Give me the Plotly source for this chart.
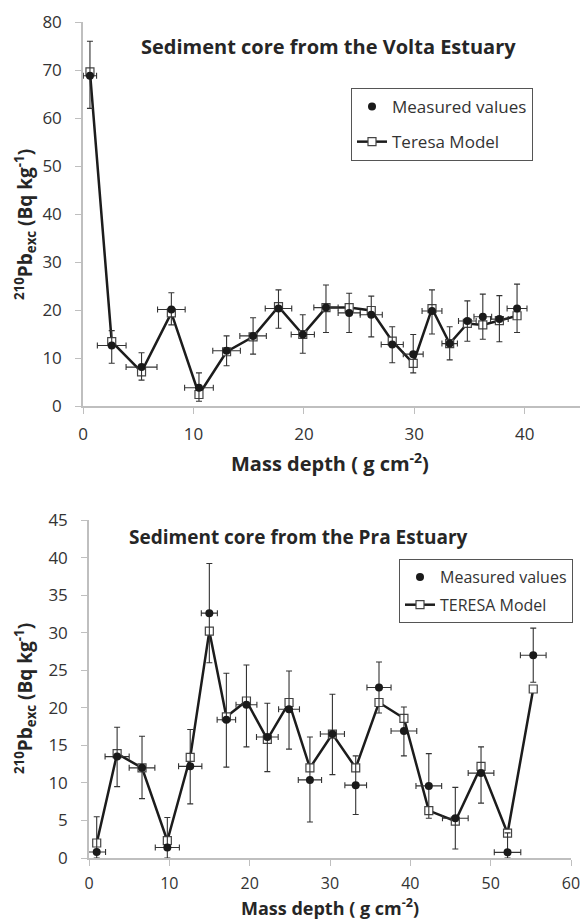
import plotly.graph_objects as go

W, H = 582, 920
FONT = "Open Sans"

# ---- Volta Estuary (top) ----
volta_x = [0.63, 2.6, 5.3, 8.0, 10.5, 13.0, 15.4, 17.7, 19.9, 22.0, 24.1, 26.1, 28.0, 29.9, 31.6, 33.2, 34.8, 36.2, 37.7, 39.3]
volta_meas = [68.8, 12.6, 8.1, 20.1, 3.8, 11.5, 14.6, 20.3, 14.9, 20.5, 19.4, 19.0, 12.8, 10.8, 19.8, 13.0, 17.7, 18.6, 18.1, 20.3]
volta_model = [69.6, 13.4, 7.1, 19.4, 2.4, 11.3, 14.4, 20.7, 14.9, 20.5, 20.5, 19.9, 13.5, 8.9, 20.3, 13.0, 17.2, 16.9, 17.8, 18.8]
volta_err_up = [7.2, 3.1, 3.0, 3.5, 3.1, 3.1, 3.8, 3.9, 4.1, 4.7, 4.1, 3.9, 3.7, 4.1, 4.4, 3.5, 4.2, 4.7, 4.9, 5.1]
volta_err_dn = [6.8, 3.7, 2.7, 3.2, 2.8, 3.1, 3.8, 4.1, 3.9, 5.2, 4.1, 4.6, 3.8, 3.9, 4.8, 3.4, 4.2, 4.7, 4.7, 5.0]
volta_xerr = [0.6, 1.3, 1.4, 1.25, 1.3, 1.25, 1.2, 1.2, 1.05, 1.1, 1.0, 1.0, 1.0, 0.9, 0.9, 0.7, 0.8, 0.8, 0.8, 0.9]

# ---- Pra Estuary (bottom) ----
pra_x = [0.96, 3.5, 6.6, 9.75, 12.6, 14.98, 17.1, 19.6, 22.2, 24.9, 27.5, 30.3, 33.2, 36.1, 39.2, 42.3, 45.6, 48.8, 52.1, 55.3]
pra_meas = [0.8, 13.5, 12.0, 1.4, 12.2, 32.6, 18.4, 20.4, 16.1, 19.8, 10.4, 16.5, 9.7, 22.7, 16.9, 9.6, 5.3, 11.3, 0.75, 27.0]
pra_model = [2.0, 13.9, 12.0, 2.3, 13.4, 30.2, 18.8, 20.9, 15.8, 20.7, 12.0, 16.5, 12.0, 20.7, 18.6, 6.3, 4.9, 12.2, 3.3, 22.5]
pra_err_up = [4.7, 3.9, 4.2, 4.0, 4.9, 6.6, 6.2, 5.3, 4.5, 5.1, 5.7, 5.3, 3.9, 3.4, 3.2, 4.3, 4.1, 3.5, 2.6, 3.6]
pra_err_dn = [0.8, 4.0, 4.1, 1.4, 5.0, 6.6, 6.3, 5.6, 4.6, 5.3, 5.6, 5.4, 3.9, 3.4, 3.3, 4.3, 4.1, 4.0, 0.75, 3.6]
pra_xerr = [1.1, 1.5, 1.6, 1.5, 1.45, 1.0, 1.15, 1.3, 1.35, 1.3, 1.45, 1.5, 1.35, 1.5, 1.6, 1.6, 1.6, 1.6, 1.65, 1.6]

LINE = "#1c1c1c"
ERR = "#333333"
AXIS = "#bfbfbf"
TXT = "#333333"

fig = go.Figure()

def add_panel(x, meas, model, eu, ed, xe, xa, ya, legend, model_name, tag):
    fig.add_trace(go.Scatter(
        x=x, y=model, mode="lines+markers", name=model_name,
        line=dict(color=LINE, width=2.5),
        marker=dict(symbol="square", size=8, color="white", line=dict(color="#444444", width=1.2)),
        xaxis=xa, yaxis=ya, legend=legend, legendgroup=tag + "m", legendrank=2))
    fig.add_trace(go.Scatter(
        x=x, y=meas, mode="markers", name="Measured values",
        marker=dict(symbol="circle", size=8, color="#1a1a1a"),
        error_y=dict(type="data", array=eu, arrayminus=ed, color=ERR, thickness=1.1, width=3),
        error_x=dict(type="data", array=xe, arrayminus=xe, color=ERR, thickness=1.1, width=3),
        xaxis=xa, yaxis=ya, legend=legend, legendgroup=tag + "a", legendrank=1))

add_panel(volta_x, volta_meas, volta_model, volta_err_up, volta_err_dn, volta_xerr, "x", "y", "legend", "Teresa Model", "v")
add_panel(pra_x, pra_meas, pra_model, pra_err_up, pra_err_dn, pra_xerr, "x2", "y2", "legend2", "TERESA Model", "p")

def px_x(p):
    return p / W

def px_y(p):
    return (H - p) / H

axis_common = dict(showgrid=False, zeroline=False, showline=True, linecolor=AXIS, linewidth=1.5,
                   ticks="outside", tickcolor=AXIS, ticklen=6, tickwidth=1.2)
tf17 = dict(family=FONT, size=17, color=TXT)
tf16 = dict(family=FONT, size=16, color=TXT)

fig.update_layout(
    width=W, height=H, margin=dict(l=0, r=0, t=0, b=0, autoexpand=False),
    paper_bgcolor="white", plot_bgcolor="white",
    font=dict(family=FONT, color=TXT),
    xaxis=dict(domain=[px_x(83), px_x(580)], range=[0, 45], dtick=10, anchor="y",
               ticklabelstandoff=6, tickfont=tf17, **axis_common),
    yaxis=dict(domain=[px_y(406), px_y(22)], range=[0, 80], dtick=10, anchor="x",
               ticklabelstandoff=10, tickfont=tf17, **axis_common),
    xaxis2=dict(domain=[px_x(89), px_x(571)], range=[0, 60], dtick=10, anchor="y2",
                ticklabelstandoff=4, tickfont=tf16, **axis_common),
    yaxis2=dict(domain=[px_y(858), px_y(520)], range=[0, 45], dtick=5, anchor="x2",
                ticklabelstandoff=10, tickfont=tf17, **axis_common),
    legend=dict(x=px_x(351), y=px_y(88), xanchor="left", yanchor="top",
                traceorder="grouped", tracegroupgap=10,
                bordercolor="#555555", borderwidth=1, bgcolor="white",
                font=dict(family=FONT, size=17, color=TXT)),
    legend2=dict(x=px_x(399), y=px_y(559), xanchor="left", yanchor="top",
                 traceorder="grouped", tracegroupgap=4,
                 bordercolor="#555555", borderwidth=1, bgcolor="white",
                 font=dict(family=FONT, size=16, color=TXT)),
    showlegend=True,
)

ylab = "<b><sup>210</sup>Pb<sub>exc</sub> (Bq kg<sup>-1</sup>)</b>"
xlab = "<b>Mass depth ( g cm<sup>-2</sup>)</b>"
ann = [
    dict(text="<b>Sediment core from the Volta Estuary</b>", x=px_x(328), y=px_y(46), size=20),
    dict(text="<b>Sediment core from the Pra Estuary</b>", x=px_x(298), y=px_y(537), size=19),
    dict(text=xlab, x=px_x(330), y=px_y(462), size=20),
    dict(text=xlab, x=px_x(330), y=px_y(907), size=18),
    dict(text=ylab, x=px_x(25), y=px_y(225), size=19, angle=-90),
    dict(text=ylab, x=px_x(25), y=px_y(699), size=19, angle=-90),
]
for a in ann:
    fig.add_annotation(text=a["text"], x=a["x"], y=a["y"], xref="paper", yref="paper",
                       xanchor="center", yanchor="middle", showarrow=False,
                       textangle=a.get("angle", 0),
                       font=dict(family=FONT, size=a["size"], color="#262626"))

fig.write_html("out.html")
